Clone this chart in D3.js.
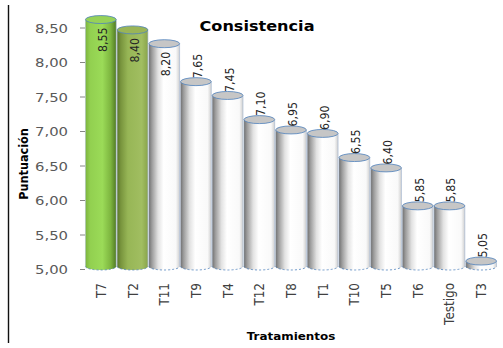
<!DOCTYPE html>
<html>
<head>
<meta charset="utf-8">
<script src="https://cdn.jsdelivr.net/npm/d3@7"></script>
<style>
  body { margin: 0; background: #fff; }
  svg { display: block; font-family: "DejaVu Sans", sans-serif; }
</style>
</head>
<body>
<script>
// Scores per treatment
const categories = ["T7", "T2", "T11", "T9", "T4", "T12", "T8", "T1", "T10", "T5", "T6", "Testigo", "T3"];
const scores = [8.55, 8.40, 8.20, 7.65, 7.45, 7.10, 6.95, 6.90, 6.55, 6.40, 5.85, 5.85, 5.05];
const yTicks = [5.00, 5.50, 6.00, 6.50, 7.00, 7.50, 8.00, 8.50];
const chartTitle = "Consistencia";
const xTitle = "Tratamientos";
const yTitle = "Puntuación";
const featured = ["T7", "T2"];

const W = 503, H = 348;
const SX = 1.15;          // horizontal glyph stretch
const ELL = 4;            // cylinder cap half-height
const LIFT = 4.5;         // cap offset for the 3D view
const baseY = 266.5;

const svg = d3.select("body").append("svg").attr("width", W).attr("height", H);

const x = d3.scaleBand().domain(categories).range([85, 497]).paddingInner(0.03).paddingOuter(0.015);
const y = d3.scaleLinear().domain([5, 8.5]).range([269, 27.5]);
const fmt = v => d3.format(".2f")(v).replace(".", ",");

// Cylinder shading
const defs = svg.append("defs");
const shades = {
  white: [[0, "#707070"], [0.1, "#9c9c9c"], [0.3, "#e2e2e2"], [0.48, "#ffffff"], [0.88, "#f9f9f9"], [1, "#cfcfcf"]],
  green: [[0, "#7cb33d"], [0.15, "#92d050"], [0.55, "#9bdb58"], [0.82, "#7db53f"], [1, "#517a24"]],
  olive: [[0, "#5a7629"], [0.12, "#78943d"], [0.35, "#97b656"], [0.8, "#a1be61"], [1, "#89a44b"]]
};
const capFill = { white: "#c6c6c6", green: "#97d257", olive: "#9ab556" };
Object.entries(shades).forEach(([k, stops]) => {
  const g = defs.append("linearGradient").attr("id", "shade-" + k).attr("x1", 0).attr("x2", 1).attr("y1", 0).attr("y2", 0);
  stops.forEach(([o, c]) => g.append("stop").attr("offset", o).attr("stop-color", c));
});
const kindOf = c => c === featured[0] ? "green" : c === featured[1] ? "olive" : "white";

const data = categories.map((c, i) => ({ c, v: scores[i] }));

// Cylinders
const bars = svg.append("g").selectAll("g").data(data).join("g");
bars.each(function (d) {
  const g = d3.select(this);
  const x0 = x(d.c), w = x.bandwidth(), rx = w / 2, cx = x0 + rx;
  const top = y(d.v) - LIFT;
  const k = kindOf(d.c);
  g.append("path")
    .attr("d", `M${x0},${top} L${x0},${baseY} A${rx},${ELL - 0.5} 0 0 0 ${x0 + w},${baseY} L${x0 + w},${top} Z`)
    .attr("fill", `url(#shade-${k})`);
  g.append("path")
    .attr("d", `M${x0},${baseY} A${rx},${ELL - 0.5} 0 0 0 ${x0 + w},${baseY}`)
    .attr("fill", "none").attr("stroke", "#4f81bd").attr("stroke-width", 0.8).attr("stroke-dasharray", "2,2");
  g.append("line").attr("x1", x0 + w).attr("x2", x0 + w).attr("y1", top).attr("y2", baseY)
    .attr("stroke", "#9fb4d0").attr("stroke-width", 0.6);
  g.append("line").attr("x1", x0).attr("x2", x0).attr("y1", top).attr("y2", baseY)
    .attr("stroke", "#9fb4d0").attr("stroke-width", 0.4);
  g.append("ellipse").attr("cx", cx).attr("cy", top).attr("rx", rx).attr("ry", ELL)
    .attr("fill", capFill[k]).attr("stroke", "#4f81bd").attr("stroke-width", 0.8);
});

// Value labels
bars.each(function (d) {
  const cx = x(d.c) + x.bandwidth() / 2;
  const t = d3.select(this).append("text")
    .attr("font-size", 11).attr("fill", "#262626")
    .text(fmt(d.v));
  const len = t.node().getComputedTextLength();
  const outStart = y(d.v) - 8;
  if (outStart - len < 20) {
    t.attr("text-anchor", "end")
      .attr("transform", `translate(${cx + 6},${y(d.v) + 3.5}) scale(${SX},1) rotate(-90)`);
  } else {
    t.attr("text-anchor", "start")
      .attr("transform", `translate(${cx + 6},${outStart}) scale(${SX},1) rotate(-90)`);
  }
});

// Y axis
const yAxis = svg.append("g").attr("transform", "translate(85,0)")
  .call(d3.axisLeft(y).tickValues(yTicks).tickSize(5).tickFormat(fmt));
yAxis.select(".domain").remove();
yAxis.selectAll(".tick line").attr("stroke", "#868686");
yAxis.selectAll(".tick text")
  .attr("x", null).attr("dy", "0.36em")
  .attr("font-family", "DejaVu Sans").attr("font-size", 12.9).attr("fill", "#595959")
  .attr("transform", `translate(-17,0) scale(${SX},1)`);

// X axis
const xAxis = svg.append("g").attr("transform", "translate(0,283)")
  .call(d3.axisBottom(x).tickSize(0));
xAxis.select(".domain").remove();
xAxis.selectAll(".tick text")
  .attr("y", null).attr("dy", null)
  .attr("text-anchor", "end")
  .attr("font-family", "DejaVu Sans").attr("font-size", 12).attr("fill", "#404040")
  .attr("transform", `translate(5,0) scale(${SX},1) rotate(-90)`);

// Titles
svg.append("text").attr("text-anchor", "middle")
  .attr("transform", `translate(257,30.5) scale(${SX},1)`)
  .attr("font-size", 14).attr("font-weight", "bold").attr("fill", "#000")
  .text(chartTitle);
svg.append("text").attr("text-anchor", "middle")
  .attr("transform", `translate(291,340) scale(${SX},1)`)
  .attr("font-size", 10.4).attr("font-weight", "bold").attr("fill", "#000")
  .text(xTitle);
svg.append("text").attr("text-anchor", "middle")
  .attr("transform", `translate(28,164) scale(${SX},1) rotate(-90)`)
  .attr("font-size", 11.3).attr("font-weight", "bold").attr("fill", "#000")
  .text(yTitle);

// Left frame edge
svg.append("line").attr("x1", 8.5).attr("x2", 8.5).attr("y1", 5).attr("y2", 343)
  .attr("stroke", "#111").attr("stroke-width", 1.4);
</script>
</body>
</html>
